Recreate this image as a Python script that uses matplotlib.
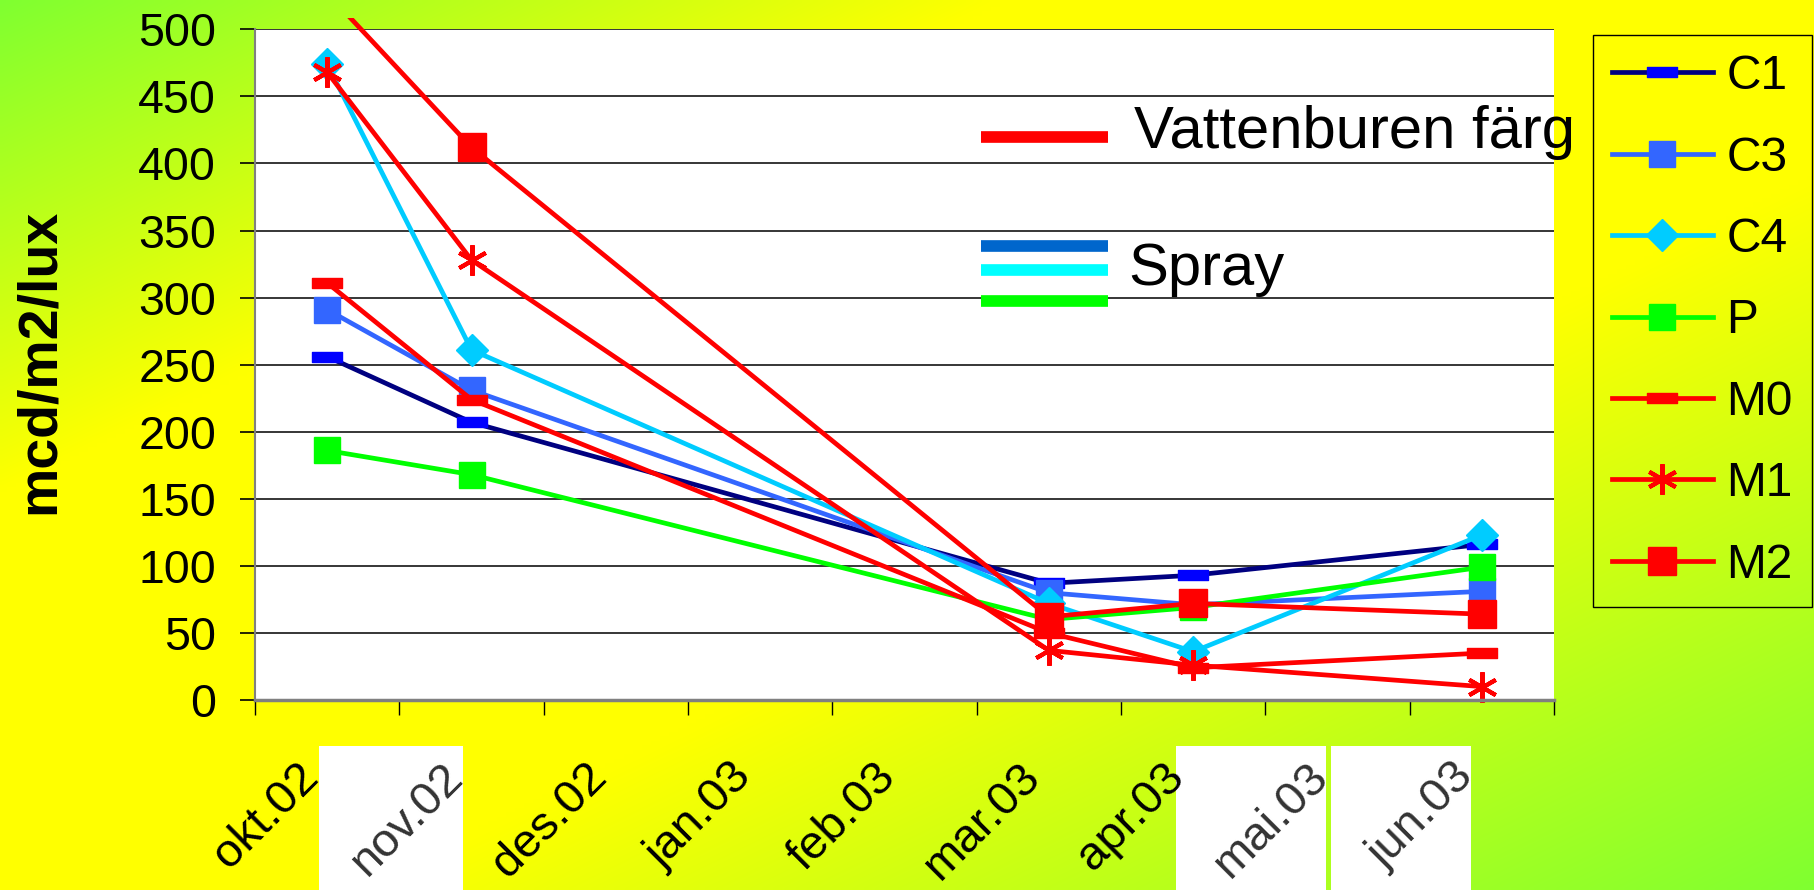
import numpy as np
import matplotlib
matplotlib.use("Agg")
import matplotlib.pyplot as plt
import matplotlib.transforms as mtransforms
from matplotlib.path import Path
from matplotlib.patches import Rectangle

plt.rcParams['font.family'] = ['Liberation Sans', 'DejaVu Sans']

# category axis (one slot per month), only some months were measured
months = ["okt.02", "nov.02", "des.02", "jan.03", "feb.03",
          "mar.03", "apr.03", "mai.03", "jun.03"]
meas_idx = [0, 1, 5, 6, 8]

c1 = [256, 207, 87, 93, 116]
c3 = [291, 231, 80, 71, 81]
c4 = [474, 261, 72, 36, 123]
p = [186, 168, 60, 69, 99]
m0 = [311, 224, 50, 24, 35]
m1 = [468, 328, 37, 26, 10]
m2 = [527, 412, 62, 72, 64]

names = ["C1", "C3", "C4", "P", "M0", "M1", "M2"]
values = [c1, c3, c4, p, m0, m1, m2]

W, H = 1814, 890

# flat "dash" marker like the excel one
dash = Path([(-1, -0.33), (1, -0.33), (1, 0.33), (-1, 0.33), (-1, -0.33)],
            [Path.MOVETO, Path.LINETO, Path.LINETO, Path.LINETO, Path.CLOSEPOLY])

styles = {
    "C1": dict(color="#000080", marker=dash, ms=22, mfc="#0000FF", mec="#0000FF"),
    "C3": dict(color="#3366FF", marker="s", ms=19, mfc="#3366FF", mec="#3366FF"),
    "C4": dict(color="#00CCFF", marker="D", ms=16, mfc="#00CCFF", mec="#00CCFF"),
    "P": dict(color="#00FF00", marker="s", ms=19, mfc="#00FF00", mec="#00FF00"),
    "M0": dict(color="#FF0000", marker=dash, ms=22, mfc="#FF0000", mec="#FF0000"),
    "M1": dict(color="#FF0000", marker=(6, 2, 0), ms=22, mfc="#FF0000", mec="#FF0000", mew=3),
    "M2": dict(color="#FF0000", marker="s", ms=20, mfc="#FF0000", mec="#FF0000"),
}

fig = plt.figure(figsize=(W / 100, H / 100), dpi=100)

# gradient background green -> yellow -> green along the diagonal
bg = fig.add_axes([0, 0, 1, 1])
bg.set_xlim(0, W)
bg.set_ylim(H, 0)
bg.axis("off")
xx, yy = np.meshgrid(np.linspace(0, 1, 400), np.linspace(0, 1, 200))
t = xx + yy
w = np.where(t < 0.55, 1 - t / 0.55, np.where(t > 1.2, (t - 1.2) / 0.8, 0.0))
yellow = np.array([1.0, 1.0, 0.0])
green = np.array([0.50, 1.0, 0.19])
img = yellow * (1 - w[..., None]) + green * w[..., None]
bg.imshow(img, extent=[0, W, H, 0], aspect="auto", interpolation="bilinear")
for x0, x1 in [(319, 463), (1176, 1326), (1331, 1471)]:
    bg.add_patch(Rectangle((x0, 746), x1 - x0, H - 746, color="white", lw=0))

ax = fig.add_axes([255 / W, 1 - 700 / H, 1299 / W, 670.7 / H])
ax.set_facecolor("white")
ax.set_xlim(-0.5, 8.5)
ax.set_ylim(0, 500)

clip = Rectangle((0, -0.05), 1, 1.067, transform=ax.transAxes, visible=False)
ax.add_patch(clip)
for name, vals in zip(names, values):
    ln, = ax.plot(meas_idx, vals, lw=3.4, label=name, **styles[name])
    ln.set_clip_path(clip)

ax.set_yticks(range(0, 501, 50))
ax.yaxis.grid(True, color="black", lw=1.1)
ax.set_axisbelow(True)
ax.tick_params(axis="y", labelsize=33.5, length=11, width=1.2, pad=17, color="black")
ax.set_xticks(np.arange(-0.5, 9, 1))
ax.set_xticklabels([])
ax.tick_params(axis="x", length=11, width=1, color="black")
for s in ["top", "right"]:
    ax.spines[s].set_visible(False)
ax.spines["left"].set_color("#808080")
ax.spines["left"].set_linewidth(1.5)
ax.spines["bottom"].set_color("#808080")
ax.spines["bottom"].set_linewidth(2.5)

ax.set_ylabel("mcd/m2/lux", fontsize=40, fontweight="bold", va="center")
ax.yaxis.set_label_coords(-0.166, 0.505)

off = mtransforms.ScaledTranslation(-0.31, -0.55, fig.dpi_scale_trans)
tr = mtransforms.blended_transform_factory(ax.transData, ax.transAxes) + off
for i, lab in enumerate(months):
    boxed = lab in ("nov.02", "mai.03", "jun.03")
    ax.text(i, 0, lab, transform=tr, rotation=45, ha="right", va="top",
            rotation_mode="anchor", fontsize=34, clip_on=False,
            color="#333333" if boxed else "black")

leg = ax.legend(loc="upper left", bbox_to_anchor=(1593 / W, 1 - 35 / H),
                bbox_transform=fig.transFigure, fontsize=34.5,
                handlelength=2.1, handletextpad=0.28, labelspacing=0.76,
                borderpad=0.4, borderaxespad=0, fancybox=False, framealpha=1)
leg.get_frame().set_facecolor("none")
leg.get_frame().set_edgecolor("black")
leg.get_frame().set_linewidth(1)

# hand-drawn group key inside the plot
ov = fig.add_axes([0, 0, 1, 1])
ov.set_xlim(0, W)
ov.set_ylim(H, 0)
ov.axis("off")
for yk, col in [(137, "#FF0000"), (246, "#0066CC"), (270, "#00FFFF"), (301, "#00FF00")]:
    ov.plot([981, 1108], [yk, yk], color=col, lw=8.4, solid_capstyle="butt")
ov.text(1134, 148, "Vattenburen färg", fontsize=43, va="baseline", ha="left")
ov.text(1128, 285, "Spray", fontsize=43, va="baseline", ha="left")

fig.savefig("out.png", dpi=100)
